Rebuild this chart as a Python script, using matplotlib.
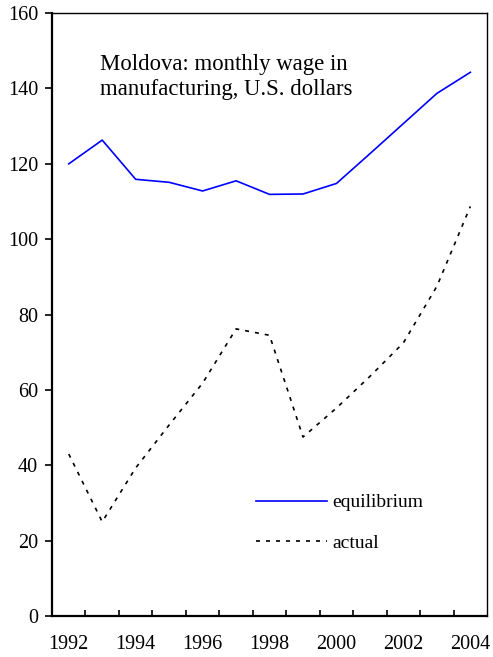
import matplotlib
matplotlib.use('Agg')
import matplotlib.pyplot as plt
import numpy as np

plt.rcParams['font.family'] = 'Liberation Serif'

years = [1992, 1993, 1994, 1995, 1996, 1997, 1998, 1999, 2000, 2001, 2002, 2003, 2004]
equilibrium = [120, 126.3, 115.9, 115.1, 112.8, 115.5, 111.9, 112, 114.8, 122.7, 130.7, 138.7, 144.3]
actual = [43, 25, 39.3, 50.7, 61.8, 76.2, 74.5, 47.5, 55.2, 63.6, 72.5, 87.5, 108.7]
year_labels = ['1992', '1994', '1996', '1998', '2000', '2002', '2004']

fig = plt.figure(figsize=(4.93, 6.57), dpi=100)
ax = fig.add_axes([0.1055, 0.0624, 0.8825, 0.9176])

ax.plot(years, equilibrium, color='#0000FF', lw=1.2, label='equilibrium')
ax.plot(years, actual, color='black', lw=1.2, linestyle=(0, (2.4, 3.6)), label='actual')

ax.set_xlim(years[0] - 0.5, years[-1] + 0.5)
ax.set_ylim(0, 160)
ax.set_yticks(np.arange(0, 161, 20))
ax.set_xticks([int(y) for y in year_labels])
ax.set_xticklabels(year_labels)
ax.set_xticks(np.array(years[:-1]) + 0.5, minor=True)

ax.tick_params(axis='x', which='major', length=0, pad=14, labelsize=14.5)
ax.tick_params(axis='x', which='minor', direction='in', length=4, width=1.2)
ax.tick_params(axis='y', direction='out', length=5, width=1.2, pad=5, labelsize=14.5)

for side in ['left', 'bottom']:
    ax.spines[side].set_linewidth(1.6)
for side in ['top', 'right']:
    ax.spines[side].set_linewidth(1.0)

ax.text(0.110, 0.933, 'Moldova: monthly wage in\nmanufacturing, U.S. dollars',
        transform=ax.transAxes, fontsize=16.4, va='top', ha='left', linespacing=1.3)

ax.legend(loc='center left', bbox_to_anchor=(0.469, 0.1543), frameon=False,
          fontsize=14, handlelength=3.65, handletextpad=0.25, borderpad=0,
          borderaxespad=0, labelspacing=1.2)

fig.savefig('out.png', dpi=100)
